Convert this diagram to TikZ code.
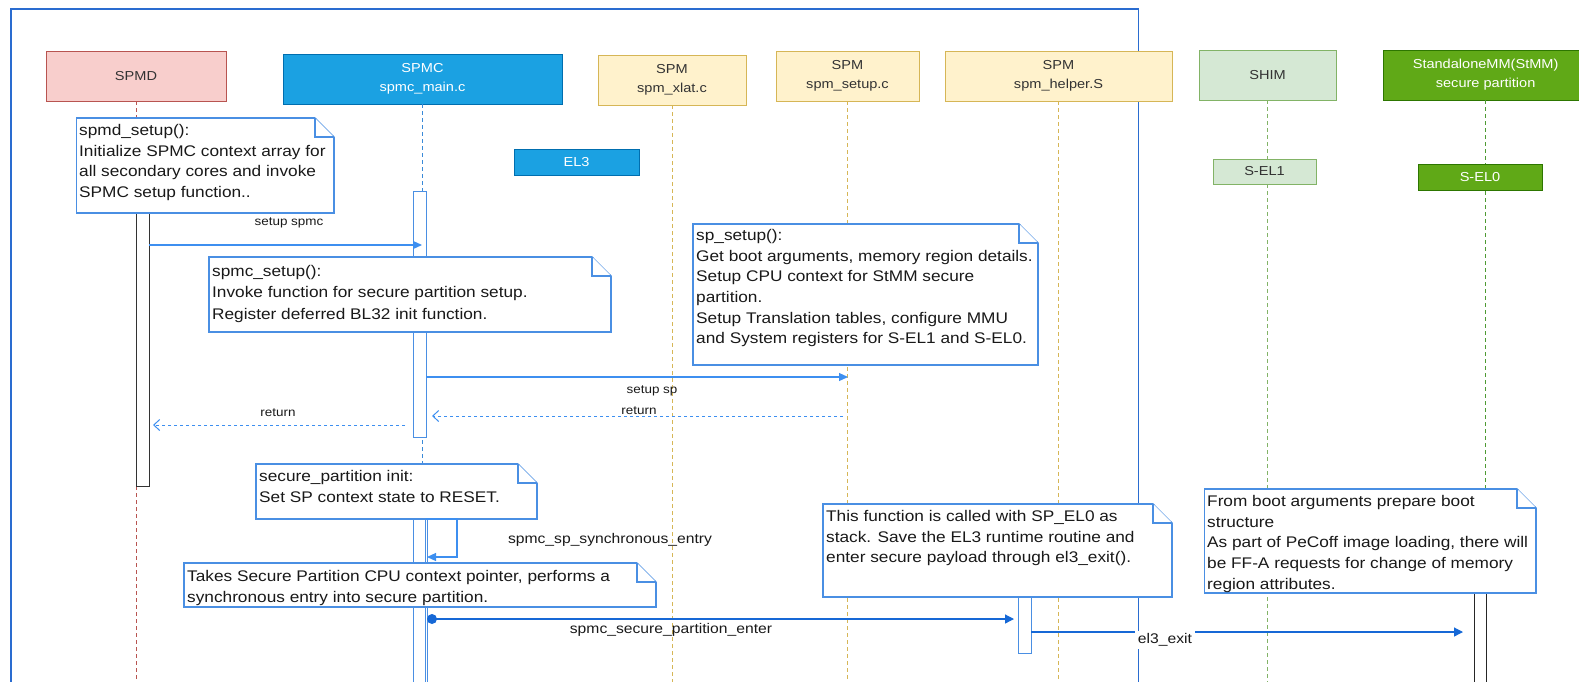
\documentclass[tikz,border=0pt]{standalone}
\usepackage{fontspec}
\setmainfont{Liberation Sans}[FakeStretch=1.12]
\usetikzlibrary{arrows.meta}

\definecolor{frameblue}{HTML}{2A6CD0}
\definecolor{noteblue}{HTML}{4A8FE3}
\definecolor{msgblue}{HTML}{3D8FF0}
\definecolor{deepblue}{HTML}{1668D6}
\definecolor{spmdfill}{HTML}{F8CECC}
\definecolor{spmdline}{HTML}{B85450}
\definecolor{spmcfill}{HTML}{1BA1E2}
\definecolor{spmcline}{HTML}{006EAF}
\definecolor{spmfill}{HTML}{FFF2CC}
\definecolor{spmline}{HTML}{D6B656}
\definecolor{shimfill}{HTML}{D5E8D4}
\definecolor{shimline}{HTML}{82B366}
\definecolor{stmmfill}{HTML}{60A917}
\definecolor{stmmline}{HTML}{2D7600}
\definecolor{stmmdash}{HTML}{4E9A33}
\definecolor{spmcdash}{HTML}{3A8AD8}

\newlength{\foldsize}
\setlength{\foldsize}{19pt}

% note box with a folded upper-right corner: name, x1, y1, x2, y2
\newcommand\notebox[5]{%
  \node[notebody, anchor=north west, minimum width={#4-#2}, minimum height={#5-#3}] (#1) at (#2,#3) {};
  \fill[white] ([xshift=-\foldsize,yshift=1pt]#1.north east) -- ([xshift=1pt,yshift=1pt]#1.north east)
     -- ([xshift=1pt,yshift=-\foldsize]#1.north east) -- cycle;
  \draw[notebody] ([xshift=-\foldsize]#1.north east) -- ([yshift=-\foldsize]#1.north east);
  \draw[notebody] ([xshift=-\foldsize]#1.north east) -- ([xshift=-\foldsize,yshift=-\foldsize]#1.north east)
     -- ([yshift=-\foldsize]#1.north east);
}

\begin{document}
\begin{tikzpicture}[x=1pt,y=-1pt,
  hdr/.style={rectangle, line width=1pt, inner sep=0pt, outer sep=0pt, anchor=north west,
    align=center, font=\fontsize{13}{19}\selectfont, text=black!80},
  tag/.style={rectangle, line width=1pt, inner sep=0pt, outer sep=0pt, anchor=north west,
    font=\fontsize{13}{15}\selectfont},
  lifeline/.style={line width=1pt, dash pattern=on 4pt off 3pt},
  act/.style={rectangle, draw, fill=white, line width=1pt, inner sep=0pt, outer sep=0pt, anchor=north west},
  notebody/.style={rectangle, draw=noteblue, fill=white, line width=1.2pt, inner sep=0pt, outer sep=0pt},
  notetext/.style={anchor=north west, inner sep=0pt, align=left, font=\fontsize{15.4}{20.7}\selectfont, text=black!90},
  lblS/.style={font=\fontsize{12}{14}\selectfont, inner sep=1pt, text=black!90},
  lblB/.style={font=\fontsize{14}{16}\selectfont, inner sep=1pt, text=black!90},
  msg/.style={line width=1.2pt, draw=msgblue, -{Triangle[length=9pt,width=8pt]}},
  ret/.style={line width=1pt, draw=msgblue, dash pattern=on 3pt off 3pt, -{Straight Barb[length=6pt,width=11pt]}},
  dmsg/.style={line width=1.2pt, draw=deepblue, -{Triangle[length=9pt,width=9pt]}}
]
\useasboundingbox (0,0) rectangle (1579,681);
\clip (0,0) rectangle (1579,681);

% EL3 frame
\coordinate (fbl) at (11,700);
\coordinate (ftl) at (11,9);
\coordinate (ftr) at (1138.5,9);
\coordinate (fbr) at (1138.5,700);
\draw[frameblue, line width=1.2pt] (fbl) -- (ftl) -- (ftr) -- (fbr);

% participants
\node[hdr, fill=spmdfill, draw=spmdline, minimum width=180pt, minimum height=50pt] (spmd) at (46,51) {SPMD};
\node[hdr, fill=spmcfill, draw=spmcline, minimum width=279pt, minimum height=50pt, text=white] (spmc) at (283,54) {SPMC\\spmc\_main.c};
\node[hdr, fill=spmfill, draw=spmline, minimum width=148pt, minimum height=50pt] (xlat) at (598,55) {SPM\\spm\_xlat.c};
\node[hdr, fill=spmfill, draw=spmline, minimum width=143pt, minimum height=50pt] (setup) at (776,51) {SPM\\spm\_setup.c};
\node[hdr, fill=spmfill, draw=spmline, minimum width=227pt, minimum height=50pt] (helper) at (945,51) {SPM\\spm\_helper.S};
\node[hdr, fill=shimfill, draw=shimline, minimum width=137pt, minimum height=50pt] (shim) at (1199,50) {SHIM};
\node[hdr, fill=stmmfill, draw=stmmline, minimum width=204pt, minimum height=50pt, text=white] (stmm) at (1383.6,50) {StandaloneMM(StMM)\\secure partition};

% lifelines
\coordinate (bot) at (0,700);
\draw[lifeline, draw=spmdline] (spmd.south) -- (spmd.south |- bot);
\draw[lifeline, draw=spmcdash] (spmc.south) -- (spmc.south |- bot);
\draw[lifeline, draw=spmline] (xlat.south) -- (xlat.south |- bot);
\draw[lifeline, draw=spmline] (setup.south) -- (setup.south |- bot);
\draw[lifeline, draw=spmline] (helper.south) -- (helper.south |- bot);
\draw[lifeline, draw=shimline] (shim.south) -- (shim.south |- bot);
\draw[lifeline, draw=stmmdash] (stmm.south) -- (stmm.south |- bot);

% exception level tags
\node[tag, fill=spmcfill, draw=spmcline, text=white, minimum width=125pt, minimum height=26pt] (el3) at (514,149) {EL3};
\node[tag, fill=shimfill, draw=shimline, text=black!80, minimum width=103pt, minimum height=25pt] (sel1) at (1213,159) {S-EL1};
\node[tag, fill=stmmfill, draw=stmmline, text=white, minimum width=124pt, minimum height=26pt] (sel0) at (1418,164) {S-EL0};

% activation bars
\node[act, draw=black!80, minimum width=12.5pt, minimum height=290pt] (aSpmd) at (136.5,196) {};
\node[act, draw=noteblue, minimum width=13pt, minimum height=246pt] (aSpmc1) at (413,191) {};
\node[act, draw=noteblue, minimum width=14pt, minimum height=185pt] (aSpmc2) at (413,515) {};
\node[act, draw=noteblue, minimum width=12pt, minimum height=185pt] (aSpmc3) at (413,519) {};
\node[act, draw=noteblue, minimum width=13pt, minimum height=56pt] (aHelp) at (1018,597) {};
\node[act, draw=black!85, minimum width=12pt, minimum height=110pt] (aStmm) at (1474,588) {};

% notes
\notebox{nSpmd}{76.5}{118}{334}{213}
\node[notetext] (tSpmd) at (79,124) {spmd\_setup():\\Initialize SPMC context array for\\all secondary cores and invoke\\SPMC setup function..};

\notebox{nSpmc}{209}{257}{611}{332}
\node[notetext, font=\fontsize{15.4}{21.5}\selectfont] (tSpmc) at (212,265) {spmc\_setup():\\Invoke function for secure partition setup.\\Register deferred BL32 init function.};

\notebox{nSp}{693}{224}{1038}{365}
\node[notetext] (tSp) at (696,229) {sp\_setup():\\Get boot arguments, memory region details.\\Setup CPU context for StMM secure\\partition.\\Setup Translation tables, configure MMU\\and System registers for S-EL1 and S-EL0.};

\notebox{nInit}{256}{464}{537}{519}
\node[notetext] (tInit) at (259,470) {secure\_partition init:\\Set SP context state to RESET.};

\notebox{nTakes}{184}{563}{656}{607}
\node[notetext] (tTakes) at (187,570) {Takes Secure Partition CPU context pointer, performs a\\synchronous entry into secure partition.};

\notebox{nFunc}{823}{504}{1172}{597}
\node[notetext] (tFunc) at (826,510) {This function is called with SP\_EL0 as\\stack. Save the EL3 runtime routine and\\enter secure payload through el3\_exit().};

\notebox{nBoot}{1204.5}{489}{1536}{593}
\node[notetext] (tBoot) at (1207,495) {From boot arguments prepare boot\\structure\\As part of PeCoff image loading, there will\\be FF-A requests for change of memory\\region attributes.};

% messages
\coordinate (m1s) at (149,245);
\coordinate (m1e) at (422,245);
\draw[msg] (m1s) -- (m1e);
\node[lblS] (l1) at (289,223) {setup spmc};

\coordinate (m2s) at (426,377);
\coordinate (m2e) at (848,377);
\draw[msg] (m2s) -- (m2e);
\node[lblS] (l2) at (652,391) {setup sp};

\coordinate (r1s) at (843,416);
\coordinate (r1e) at (432,416);
\draw[ret] (r1s) -- (r1e);
\node[lblS, fill=white] (l3) at (639,411) {return};

\coordinate (r2s) at (405,425);
\coordinate (r2e) at (153,425);
\draw[ret] (r2s) -- (r2e);
\node[lblS] (l4) at (278,413) {return};

\coordinate (s0) at (426,519);
\coordinate (s1) at (457,519);
\coordinate (s2) at (457,557);
\coordinate (s3) at (427,557);
\draw[msg] (s0) -- (s1) -- (s2) -- (s3);
\node[lblB] (l5) at (610,540) {spmc\_sp\_synchronous\_entry};

\coordinate (dot) at (432,619);
\coordinate (e1) at (1014,619);
\fill[deepblue] (dot) circle (5pt);
\draw[dmsg] (dot) -- (e1);
\node[lblB] (l6) at (671,630) {spmc\_secure\_partition\_enter};

\coordinate (x0) at (1031,632);
\coordinate (x1) at (1463,632);
\draw[dmsg] (x0) -- (x1);
\node[lblB, fill=white, inner sep=2.5pt] (l7) at (1165,640) {el3\_exit};

\end{tikzpicture}
\end{document}
